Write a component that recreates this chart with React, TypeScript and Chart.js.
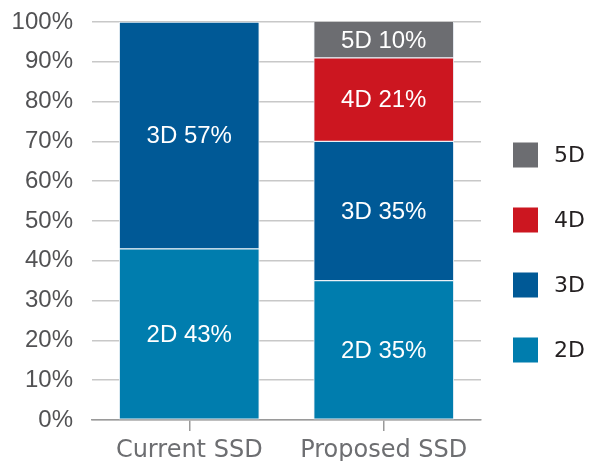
import React, { useEffect, useRef } from "react";
import { Chart, registerables } from "chart.js";

Chart.register(...registerables);

const categories = ["Current SSD", "Proposed SSD"];
const seriesNames = ["2D", "3D", "4D", "5D"];
const values2D = [43, 35];
const values3D = [57, 35];
const values4D = [null, 21];
const values5D = [null, 10];
const seriesColors = ["#007dae", "#005996", "#cc1620", "#6c6d71"];
const yTicks = [0, 10, 20, 30, 40, 50, 60, 70, 80, 90, 100];

const barLabelPlugin = {
  id: "barLabels",
  afterDatasetsDraw(chart: any) {
    const ctx = chart.ctx;
    const area = chart.chartArea;
    ctx.save();
    ctx.fillStyle = "#ffffff";
    ctx.font = "24px 'Liberation Sans', Arial, sans-serif";
    ctx.textAlign = "center";
    ctx.textBaseline = "middle";
    chart.data.datasets.forEach((ds: any, i: number) => {
      const meta = chart.getDatasetMeta(i);
      meta.data.forEach((el: any, j: number) => {
        const v = ds.data[j];
        if (v == null) return;
        const top = Math.max(Math.min(el.y, el.base), area.top);
        const bottom = Math.min(Math.max(el.y, el.base), area.bottom);
        ctx.fillText(`${ds.label} ${v}%`, el.x, (top + bottom) / 2 + 1);
      });
    });
    ctx.restore();
  },
};

const sideLegendPlugin = {
  id: "sideLegend",
  afterDraw(chart: any) {
    const ctx = chart.ctx;
    const items = chart.data.datasets.slice().reverse();
    ctx.save();
    ctx.font = "22px 'DejaVu Sans', sans-serif";
    ctx.textAlign = "left";
    ctx.textBaseline = "middle";
    items.forEach((ds: any, k: number) => {
      const cy = 155 + k * 65;
      ctx.fillStyle = ds.backgroundColor;
      ctx.fillRect(513, cy - 12.5, 25, 25);
      ctx.fillStyle = "#231f20";
      ctx.fillText(ds.label, 554, cy + 1);
    });
    ctx.restore();
  },
};

export default function App() {
  const ref = useRef<HTMLCanvasElement>(null);
  useEffect(() => {
    if (!ref.current) return;
    const seriesValues = [values2D, values3D, values4D, values5D];
    const chart = new Chart(ref.current, {
      type: "bar",
      data: {
        labels: categories,
        datasets: seriesNames.map((name, i) => ({
          label: name,
          data: seriesValues[i] as any,
          backgroundColor: seriesColors[i],
          borderColor: "rgba(235,242,247,0.9)",
          borderWidth: 1,
          borderSkipped: false,
          barThickness: 140,
        })),
      },
      options: {
        animation: false,
        responsive: false,
        maintainAspectRatio: false,
        layout: { padding: { left: 0, right: 110, top: 5, bottom: 5 } },
        plugins: {
          legend: { display: false },
          tooltip: { enabled: false },
        },
        scales: {
          x: {
            stacked: true,
            afterFit(scale: any) {
              scale.height = 55;
            },
            grid: {
              display: true,
              drawOnChartArea: false,
              drawTicks: true,
              tickLength: 11,
              offset: false,
              color: "#9a9a9a",
              lineWidth: 1.5,
            },
            border: { display: true, color: "#9a9a9a", width: 1.5 },
            ticks: {
              color: "#6d6e71",
              font: { family: "'DejaVu Sans', sans-serif", size: 24 },
              padding: 5,
            },
          },
          y: {
            stacked: true,
            min: 0,
            max: 100,
            afterFit(scale: any) {
              scale.width = 92;
            },
            afterBuildTicks(scale: any) {
              scale.ticks = yTicks.map((v) => ({ value: v }));
            },
            grid: {
              color: "#c8c8c8",
              lineWidth: 1.5,
              drawTicks: true,
              tickLength: 11.4,
              tickColor: "rgba(0,0,0,0)",
            },
            border: { display: false },
            ticks: {
              color: "#525254",
              font: { family: "'Liberation Sans', Arial, sans-serif", size: 24 },
              padding: 7.6,
              callback: (v: any) => `${v}%`,
            },
          },
        },
      },
      plugins: [barLabelPlugin, sideLegendPlugin],
    });
    return () => chart.destroy();
  }, []);
  return (
    <div style={{ position: "fixed", left: 0, top: 0, width: 591, height: 461, overflow: "hidden", background: "#fff" }}>
      <canvas ref={ref} width={591} height={480} style={{ display: "block", width: 591, height: 480 }} />
    </div>
  );
}
